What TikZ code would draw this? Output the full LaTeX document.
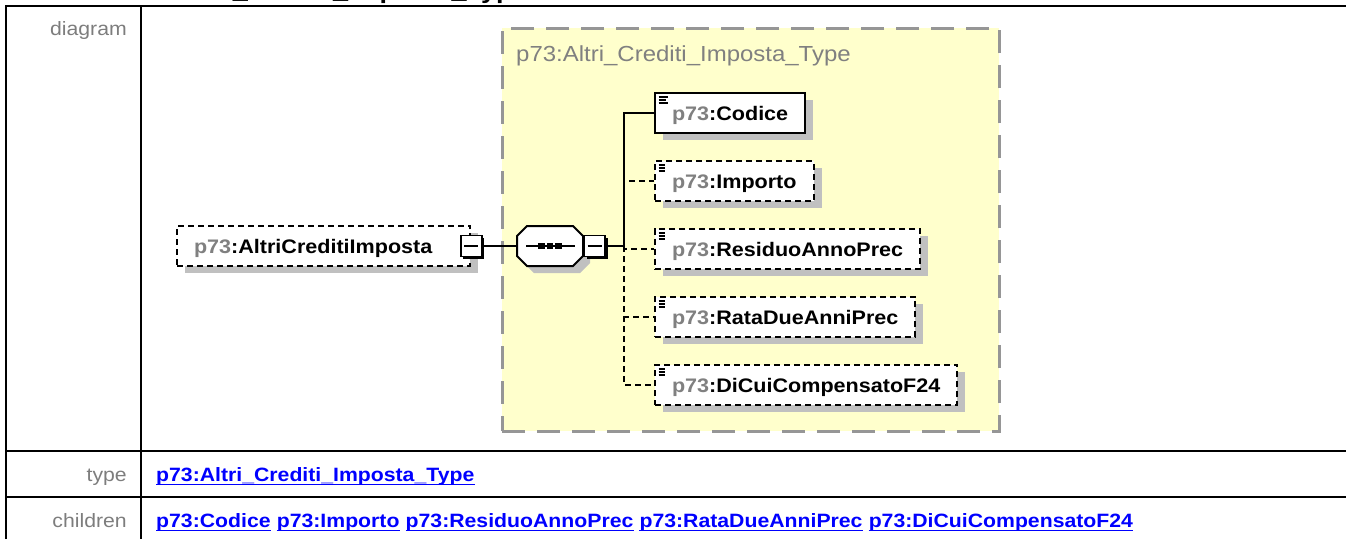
\documentclass[tikz,border=0pt]{standalone}
\usepackage{fontspec}
\setmainfont{Liberation Sans}[FakeStretch=1.1]
\usepackage{tikz}
\usetikzlibrary{positioning,shadows}

\definecolor{typefill}{RGB}{255,255,204}
\definecolor{typedash}{RGB}{150,150,150}
\definecolor{shadowgray}{RGB}{192,192,192}
\definecolor{nsgray}{RGB}{128,128,128}
\definecolor{lblgray}{RGB}{125,125,125}

\begin{document}
\begin{tikzpicture}[x=1pt,y=-1pt,
  grid/.style={line width=2pt},
  rowlabel/.style={anchor=base east,inner sep=0pt,text=lblgray,font=\fontsize{19.3}{22}\selectfont},
  link/.style={anchor=base west,inner sep=0pt,text=blue,font=\fontsize{19.3}{22}\selectfont\bfseries},
  underline/.style={draw=blue,line width=1.8pt},
  typebox/.style={draw=typedash,fill=typefill,line width=2.5pt,dash pattern=on 23pt off 12pt,anchor=north west,inner sep=0pt},
  elem/.style={draw,fill=white,line width=2pt,minimum height=40pt,inner xsep=17pt,inner ysep=0pt,
    text height=15pt,text depth=0pt,font=\fontsize{19.6}{22}\selectfont\bfseries,
    drop shadow={shadow xshift=8pt,shadow yshift=-7pt,fill=shadowgray,opacity=1}},
  optional/.style={dash pattern=on 6pt off 4pt},
  simple/.style={path picture={
    \foreach \dy/\len in {4/9,7/7,10/9}
      \draw[line width=1.3pt] ([shift={(3.5,\dy)}]path picture bounding box.north west) -- ++(\len,0);}},
  minusbox/.style={draw,fill=white,line width=1.8pt,minimum size=21pt,inner sep=0pt,
    drop shadow={shadow xshift=2.5pt,shadow yshift=-2.5pt,fill=black,opacity=1},
    path picture={\draw[line width=1.8pt] ([xshift=3.5pt]path picture bounding box.west) -- ([xshift=-3.5pt]path picture bounding box.east);}},
  wire/.style={line width=2pt}
]
\useasboundingbox (0,0) rectangle (1346,539);

% page heading, cut by the top edge
\node[anchor=base west,inner sep=0pt,font=\fontsize{24.5}{27}\selectfont\bfseries] (heading) at (69.5,-1.8) {element Altri\_Crediti\_Imposta\_Type};

% table
\draw[grid] (6,539) -- (6,6) -- (1346,6);
\draw[grid] (141,6) -- (141,539);
\draw[grid] (6,451) -- (1346,451);
\draw[grid] (6,497) -- (1346,497);

\node[rowlabel] (diagramlbl) at (127,35) {diagram};
\node[rowlabel] (typelbl) at (127,481) {type};
\node[rowlabel] (childrenlbl) at (127,527) {children};

\node[link] (typelink) at (156,481) {p73:Altri\_Crediti\_Imposta\_Type};
\node[link] (c1) at (156,527) {p73:Codice};
\node[link,right=5.8pt of c1.base east,anchor=base west] (c2) {p73:Importo};
\node[link,right=5.8pt of c2.base east,anchor=base west] (c3) {p73:ResiduoAnnoPrec};
\node[link,right=5.8pt of c3.base east,anchor=base west] (c4) {p73:RataDueAnniPrec};
\node[link,right=5.8pt of c4.base east,anchor=base west] (c5) {p73:DiCuiCompensatoF24};
\foreach \l in {typelink,c1,c2,c3,c4,c5}
  \draw[underline] ([yshift=-3.4pt]\l.base west) -- ([yshift=-3.4pt]\l.base east);

% complex type
\node[typebox,minimum width=497pt,minimum height=403pt] (typebox) at (501,27) {};
\node[anchor=base west,inner sep=0pt,text=nsgray,font=\fontsize{21.8}{24}\selectfont] (typename) at (516,61) {p73:Altri\_Crediti\_Imposta\_Type};

% element and sequence
\node[elem,optional,anchor=west] (altri) at (176,246) {\textcolor{nsgray}{p73}:AltriCreditiImposta\rule{21pt}{0pt}};
\node[minusbox] (altrisq) at (altri.east) {};

\node[minimum width=66pt,minimum height=40pt,inner sep=0pt] (seq) at (550,246) {};
\begin{scope}[shift={(seq.center)}]
  \fill[shadowgray,shift={(7,7)}] (-23,-20) -- (23,-20) -- (33,-10) -- (33,10) -- (23,20) -- (-23,20) -- (-33,10) -- (-33,-10) -- cycle;
  \draw[line width=2pt,fill=white] (-23,-20) -- (23,-20) -- (33,-10) -- (33,10) -- (23,20) -- (-23,20) -- (-33,10) -- (-33,-10) -- cycle;
  \draw[line width=1.8pt] (-24,0) -- (25,0);
  \foreach \dx in {-8.5,0,8.5}
    \fill (\dx-3.2,-3.2) rectangle (\dx+3.2,3.2);
\end{scope}
\node[minusbox,right=0pt of seq] (seqsq) {};
\coordinate (trunk) at (624,246);

% children
\node[elem,simple,anchor=west] (codice) at (654,113) {\textcolor{nsgray}{p73}:Codice};
\node[elem,simple,optional,below=26pt of codice.south west,anchor=north west] (importo) {\textcolor{nsgray}{p73}:Importo};
\node[elem,simple,optional,below=26pt of importo.south west,anchor=north west] (residuo) {\textcolor{nsgray}{p73}:ResiduoAnnoPrec};
\node[elem,simple,optional,below=26pt of residuo.south west,anchor=north west] (rata) {\textcolor{nsgray}{p73}:RataDueAnniPrec};
\node[elem,simple,optional,below=26pt of rata.south west,anchor=north west] (dicui) {\textcolor{nsgray}{p73}:DiCuiCompensatoF24};

\draw[wire] (altrisq.east) -- (seq.west);
\draw[wire] (seqsq.east) -- (trunk);
\draw[wire] (trunk) |- (codice.west);
\foreach \child in {importo,residuo,rata,dicui}
  \draw[wire,optional] (trunk) |- (\child.west);
\end{tikzpicture}
\end{document}
